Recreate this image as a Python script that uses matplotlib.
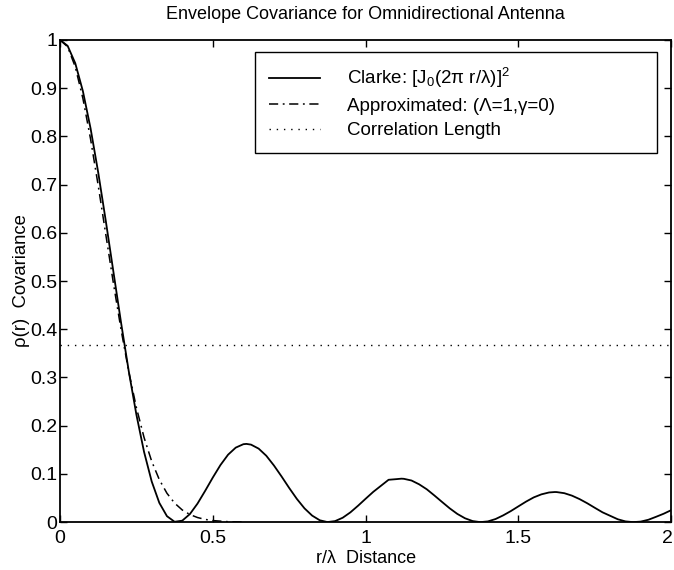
import matplotlib
matplotlib.use("Agg")
import matplotlib.pyplot as plt
import matplotlib.transforms as mtransforms

# ---- data ----
r_clarke = [0.000, 0.025, 0.050, 0.075, 0.100, 0.125, 0.150, 0.175, 0.200, 0.225,
            0.250, 0.275, 0.300, 0.325, 0.350, 0.375, 0.400, 0.425, 0.450, 0.475,
            0.500, 0.525, 0.550, 0.575, 0.600, 0.610, 0.625, 0.650, 0.675, 0.700,
            0.725, 0.750, 0.775, 0.800, 0.825, 0.850, 0.875, 0.900, 0.925, 0.950,
            0.975, 1.000, 1.025, 1.050, 1.075, 1.100, 1.117, 1.125, 1.150, 1.175,
            1.200, 1.225, 1.250, 1.275, 1.300, 1.325, 1.350, 1.375, 1.400, 1.425,
            1.450, 1.475, 1.500, 1.525, 1.550, 1.575, 1.600, 1.619, 1.625, 1.650,
            1.675, 1.700, 1.725, 1.750, 1.775, 1.800, 1.825, 1.850, 1.875, 1.900,
            1.925, 1.950, 1.975, 2.000]
clarke = [1.0000, 0.9877, 0.9516, 0.8935, 0.8167, 0.7253, 0.6240, 0.5182, 0.4128, 0.3130,
          0.2228, 0.1458, 0.0844, 0.0399, 0.0123, 0.0007, 0.0030, 0.0167, 0.0385, 0.0649,
          0.0925, 0.1184, 0.1399, 0.1545, 0.1616, 0.1622, 0.1607, 0.1524, 0.1376, 0.1174,
          0.0946, 0.0707, 0.0481, 0.0285, 0.0135, 0.0038, 0.0001, 0.0021, 0.0091, 0.0202,
          0.0339, 0.0485, 0.0628, 0.0753, 0.0878, 0.0891, 0.0901, 0.0898, 0.0863, 0.0784,
          0.0681, 0.0552, 0.0418, 0.0286, 0.0170, 0.0080, 0.0022, 0.0000, 0.0015, 0.0064,
          0.0140, 0.0229, 0.0328, 0.0426, 0.0513, 0.0576, 0.0615, 0.0624, 0.0623, 0.0600,
          0.0549, 0.0477, 0.0391, 0.0296, 0.0203, 0.0131, 0.0059, 0.0015, 0.0000, 0.0011,
          0.0049, 0.0110, 0.0174, 0.0249]

r_approx = [0.000, 0.025, 0.050, 0.075, 0.100, 0.125, 0.150, 0.175, 0.200, 0.225,
            0.250, 0.275, 0.300, 0.325, 0.350, 0.375, 0.400, 0.425, 0.450, 0.475,
            0.500, 0.550, 0.600]
approx = [1.0000, 0.9857, 0.9441, 0.8786, 0.7945, 0.6981, 0.5960, 0.4944, 0.3985, 0.3121,
          0.2375, 0.1756, 0.1262, 0.0881, 0.0598, 0.0394, 0.0252, 0.0157, 0.0095, 0.0056,
          0.0032, 0.0009, 0.0003]

corr_length = 0.3679
x_ticks = [0, 0.5, 1, 1.5, 2]
x_tick_labels = ["0", "0.5", "1", "1.5", "2"]
y_ticks = [0, 0.1, 0.2, 0.3, 0.4, 0.5, 0.6, 0.7, 0.8, 0.9, 1.0]
y_tick_labels = ["0", "0.1", "0.2", "0.3", "0.4", "0.5", "0.6", "0.7", "0.8", "0.9", "1"]

title = "Envelope Covariance for Omnidirectional Antenna"
labels = ["Clarke: [J$_0$(2\u03c0 r/\u03bb)]$^2$",
          "Approximated: (\u039b=1,\u03b3=0)",
          "Correlation Length"]

# ---- drawing ----
plt.rcParams["font.family"] = ["Liberation Sans", "DejaVu Sans"]
plt.rcParams["mathtext.default"] = "regular"
plt.rcParams["font.size"] = 13

fig = plt.figure(figsize=(6.74, 5.70), dpi=100)
ax = fig.add_axes([0.089, 0.084, 0.907, 0.846])

ax.plot(r_clarke, clarke, color="black", lw=1.3, ls="-", label=labels[0])
ax.plot(r_approx, approx, color="black", lw=1.1, ls=(0, (6, 3, 1.2, 3)), label=labels[1])
ax.plot([x_ticks[0], x_ticks[-1]], [corr_length, corr_length], color="black", lw=1.0,
        ls=(0, (1, 4.2)), label=labels[2])

ax.set_xlim(0, 2)
ax.set_ylim(0, 1)
ax.set_xticks(x_ticks)
ax.set_xticklabels(x_tick_labels)
ax.set_yticks(y_ticks)
ax.set_yticklabels(y_tick_labels)
ax.tick_params(direction="in", top=True, right=True, length=5, width=1.0,
               labelsize=14)
ax.tick_params(axis="x", pad=6)
ax.tick_params(axis="y", pad=2)
for s in ax.spines.values():
    s.set_linewidth(1.3)

# keep the last x tick label inside the canvas
last = ax.get_xticklabels()[-1]
last.set_transform(last.get_transform() +
                   mtransforms.ScaledTranslation(-3 / 72, 0, fig.dpi_scale_trans))

ax.set_title(title, fontsize=13, pad=15)
ax.set_xlabel("r/\u03bb  Distance", fontsize=13, labelpad=2)
ax.set_ylabel("\u03c1(r)  Covariance", fontsize=13.3, labelpad=0)

leg = ax.legend(loc="upper left", bbox_to_anchor=(0.319, 0.768, 0.658, 0.207),
                mode="expand", fancybox=False, framealpha=1, edgecolor="black",
                fontsize=13.5, handlelength=2.7, handletextpad=1.45, borderpad=0.75,
                labelspacing=0.4, borderaxespad=0)
leg.get_frame().set_linewidth(1.0)

fig.savefig("out.png", dpi=100)
